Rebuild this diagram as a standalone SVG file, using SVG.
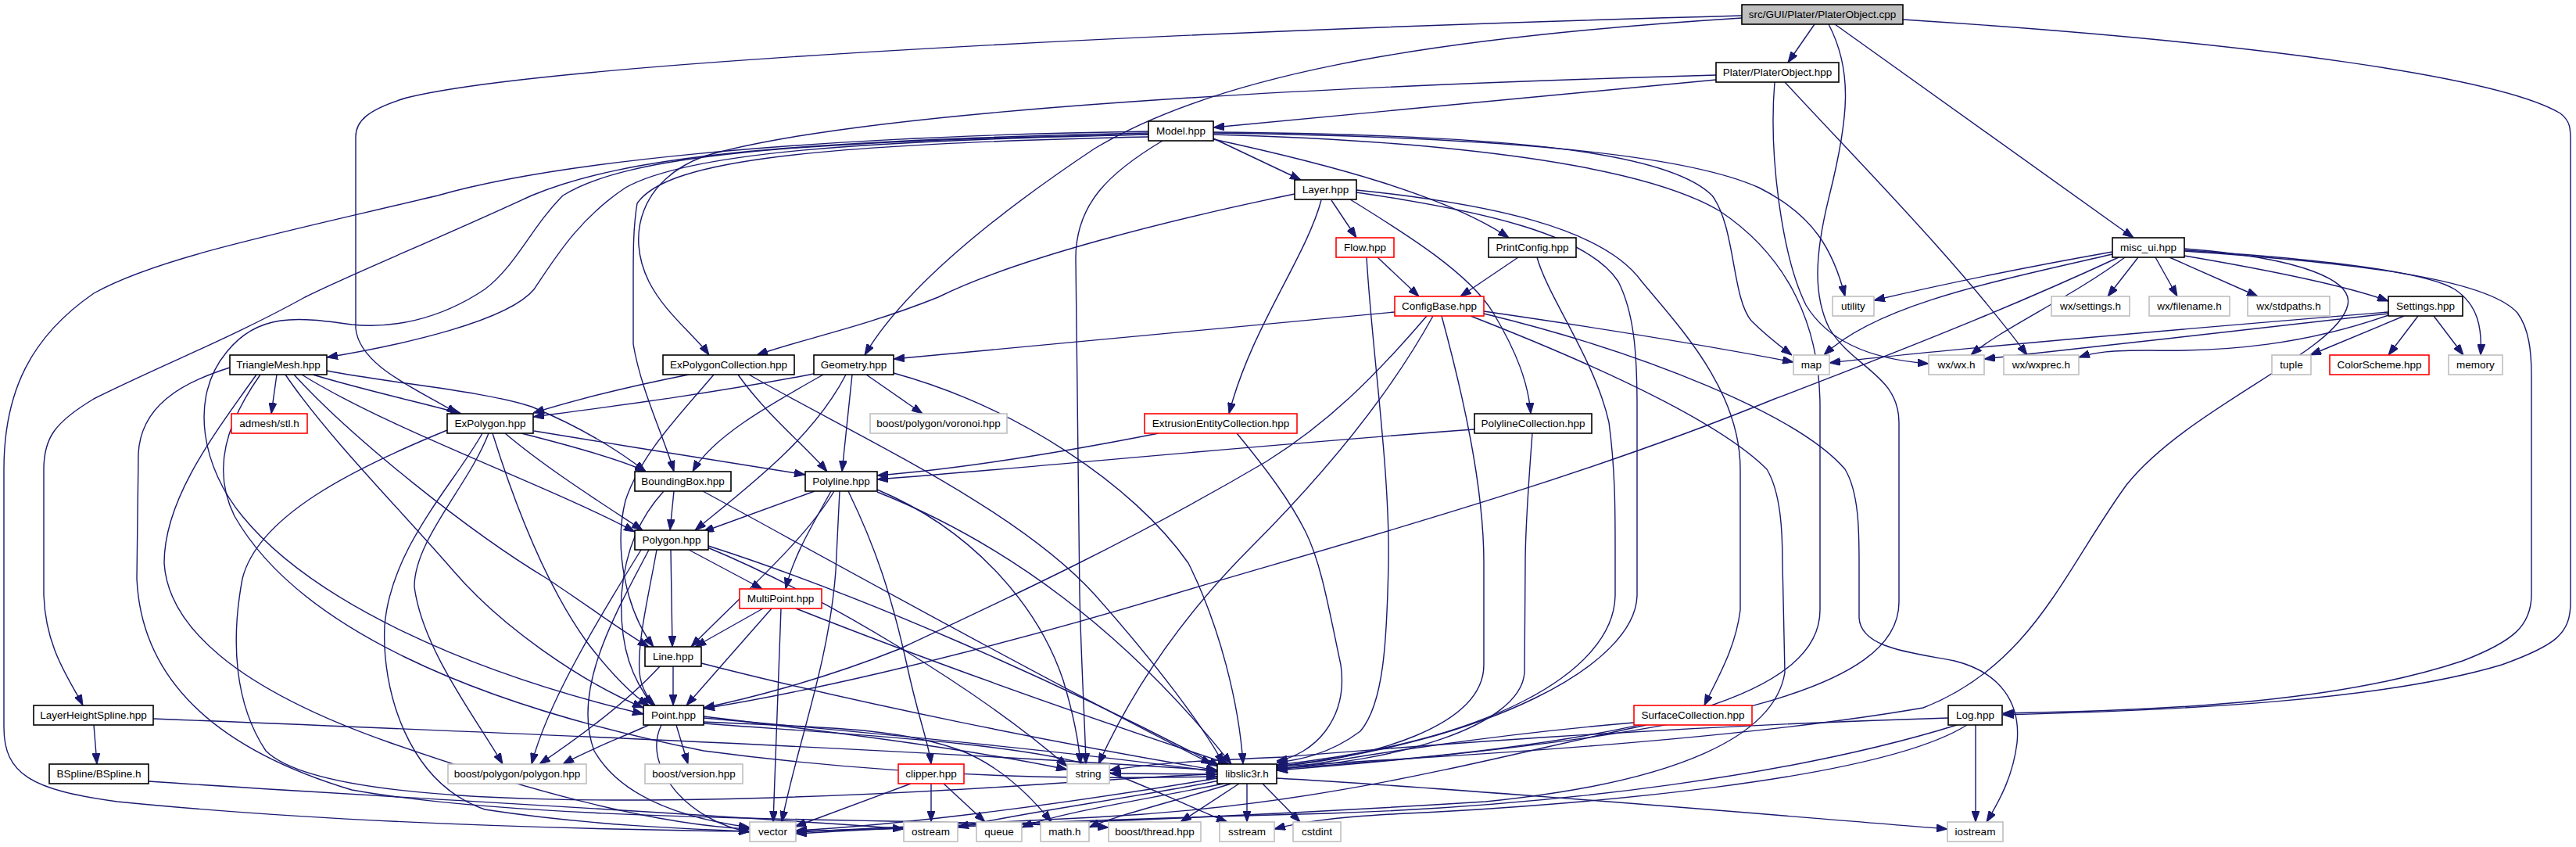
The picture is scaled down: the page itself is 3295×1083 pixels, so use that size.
<svg xmlns="http://www.w3.org/2000/svg" width="3295" height="1083" viewBox="0 0 3295 1083">
<style>
.e{fill:none;stroke:#191970;stroke-width:1.4;marker-end:url(#a)}
.n rect{fill:#fff;stroke:#000;stroke-width:1.6}
.g rect{fill:#fff;stroke:#bfbfbf;stroke-width:1.6}
.r rect{fill:#fff;stroke:#ff0000;stroke-width:1.6}
.root rect{fill:#bfbfbf;stroke:#000;stroke-width:1.6}
text{font-family:"Liberation Sans",Arial,sans-serif;font-size:13.5px;text-anchor:middle;fill:#000}
</style>
<defs>
<marker id="a" markerUnits="userSpaceOnUse" markerWidth="14" markerHeight="10" refX="14" refY="5" orient="auto"><path d="M0,0 L14,5 L0,10 z" fill="#191970" stroke="#191970"/></marker>
</defs>
<rect width="3295" height="1083" fill="#fff"/>
<g id="edges">
<path class="e" d="M2321,31 L2287,80"/>
<path class="e" d="M2228,23 C1800,50 1550,100 1400,190 C1250,290 1150,380 1106,454"/>
<path class="e" d="M2228,20 C1500,40 700,80 520,125 C470,140 455,155 455,175 L455,420 C460,470 540,500 585,529"/>
<path class="e" d="M2347,31 L2729,304"/>
<path class="e" d="M2434,25 C2900,55 3200,100 3275,145 C3288,155 3288,165 3288,180 L3288,770 C3288,810 3270,825 3200,850 C3050,895 2800,908 2562,914"/>
<path class="e" d="M2339,31 C2370,90 2365,150 2340,250 C2320,330 2320,380 2340,420 C2370,470 2429,480 2429,540 L2429,770 C2429,880 2200,940 1633,985"/>
<path class="e" d="M2195,102 C1950,125 1750,145 1552,163"/>
<path class="e" d="M2195,96 C1700,110 1100,140 900,200 C820,230 800,300 830,360 C850,400 890,430 907,454"/>
<path class="e" d="M2270,105 C2262,200 2280,330 2310,390 C2340,440 2400,460 2467,465"/>
<path class="e" d="M2283,105 C2380,210 2500,330 2593,454"/>
<path class="e" d="M1552,177 L1664,230"/>
<path class="e" d="M1552,178 C1700,210 1850,250 1930,304"/>
<path class="e" d="M1552,169 C1900,172 2130,190 2190,250 C2220,290 2215,380 2240,410 C2260,430 2280,445 2292,454"/>
<path class="e" d="M1552,170 C1900,175 2150,195 2250,240 C2320,275 2345,320 2360,379"/>
<path class="e" d="M1552,172 C1850,180 2100,210 2200,270 C2290,330 2328,420 2328,520 L2328,780 C2328,880 2150,950 1633,983"/>
<path class="e" d="M1487,180 C1420,220 1376,260 1376,330 L1381,760 C1383,850 1388,930 1389,977"/>
<path class="e" d="M1469,172 C1100,180 880,195 800,240 C740,280 710,330 683,370 C650,410 520,440 418,457"/>
<path class="e" d="M1469,170 C1000,180 800,200 680,250 C550,310 450,350 390,380 C300,430 200,470 120,510 C70,540 56,560 56,600 L56,760 C58,830 90,870 106,902"/>
<path class="e" d="M1469,168 C1000,175 700,210 560,250 C350,300 200,330 120,375 C40,430 5,500 5,600 L5,930 C5,990 40,1010 150,1025 C400,1050 700,1060 959,1063"/>
<path class="e" d="M1469,172 C1000,180 800,200 720,250 C680,290 660,340 620,370 C560,410 500,420 450,415 C380,405 330,400 290,450 C240,510 260,600 310,660 C400,770 600,860 823,913"/>
<path class="e" d="M1469,175 C1000,185 850,210 815,260 C810,290 810,320 810,360 L810,440 C820,500 850,560 862,603"/>
<path class="e" d="M1703,256 L1735,304"/>
<path class="e" d="M1690,256 C1670,330 1600,420 1572,529"/>
<path class="e" d="M1727,255 C1800,300 1880,350 1910,400 C1940,450 1955,490 1958,529"/>
<path class="e" d="M1656,248 C1500,280 1300,330 1200,380 C1100,420 1020,435 968,454"/>
<path class="e" d="M1735,243 C1900,260 2050,290 2100,360 C2150,420 2226,500 2226,600 L2226,780 C2220,830 2195,870 2180,902"/>
<path class="e" d="M1735,246 C1900,270 2030,300 2070,360 C2090,400 2094,450 2094,520 L2094,760 C2094,850 1900,950 1633,980"/>
<path class="e" d="M1942,329 L1868,379"/>
<path class="e" d="M1966,329 C1980,380 2040,460 2058,540 C2066,600 2066,650 2066,700 L2066,760 C2066,860 1900,950 1633,978"/>
<path class="e" d="M1762,329 L1815,379"/>
<path class="e" d="M1748,329 C1755,450 1778,600 1776,720 C1774,820 1770,900 1740,935 C1700,965 1660,972 1633,975"/>
<path class="e" d="M1784,399 C1500,425 1300,445 1143,459"/>
<path class="e" d="M1825,404 C1760,480 1700,540 1620,590 C1450,690 1300,760 1150,830 C1050,870 950,895 900,905"/>
<path class="e" d="M1833,404 C1780,500 1700,600 1600,700 C1500,800 1440,900 1405,977"/>
<path class="e" d="M1844,404 C1870,500 1898,620 1898,720 L1898,850 C1898,930 1750,970 1633,980"/>
<path class="e" d="M1898,398 C2050,420 2200,445 2294,463"/>
<path class="e" d="M1898,401 C2100,450 2300,530 2360,600 C2378,630 2378,680 2378,720 L2378,790 C2380,830 2450,835 2500,845 C2560,860 2585,900 2580,950 C2575,990 2560,1020 2541,1051"/>
<path class="e" d="M1881,404 C2050,470 2200,540 2260,600 C2278,630 2280,680 2280,720 L2283,860 C2270,940 2150,1000 1900,1025 C1500,1050 1200,1058 1018,1063"/>
<path class="e" d="M1886,549 C1600,570 1350,595 1122,613"/>
<path class="e" d="M1960,554 C1955,620 1951,680 1951,720 L1950,860 C1945,930 1780,975 1633,982"/>
<path class="e" d="M1482,554 C1350,580 1220,600 1122,608"/>
<path class="e" d="M1582,554 C1620,600 1650,640 1670,680 C1690,720 1700,780 1715,850 C1725,920 1680,965 1633,973"/>
<path class="e" d="M881,479 C800,495 740,510 682,528"/>
<path class="e" d="M1041,478 C900,505 780,520 682,533"/>
<path class="e" d="M944,479 C980,530 1030,570 1058,603"/>
<path class="e" d="M958,479 C1100,560 1300,650 1400,760 C1480,850 1540,930 1565,977"/>
<path class="e" d="M913,479 C870,530 820,580 800,640 C785,700 800,780 836,827"/>
<path class="e" d="M1053,479 C980,520 910,560 886,603"/>
<path class="e" d="M1082,479 C1040,560 960,620 889,678"/>
<path class="e" d="M1090,479 L1077,603"/>
<path class="e" d="M1108,479 L1180,529"/>
<path class="e" d="M1143,477 C1300,520 1450,620 1520,720 C1560,800 1585,900 1590,977"/>
<path class="e" d="M667,554 C730,570 800,590 826,603"/>
<path class="e" d="M683,551 C800,570 950,595 1030,607"/>
<path class="e" d="M646,554 C700,600 780,650 822,678"/>
<path class="e" d="M630,554 C660,650 700,750 750,820 C780,860 810,890 830,902"/>
<path class="e" d="M625,554 C600,620 530,690 530,750 C540,830 610,920 643,977"/>
<path class="e" d="M617,554 C580,620 500,700 492,800 C488,880 520,1000 620,1035 C750,1055 880,1060 959,1063"/>
<path class="e" d="M572,550 C450,600 330,660 310,740 C295,820 300,900 340,960 C420,1040 900,1030 1300,1005 C1450,995 1520,990 1557,990"/>
<path class="e" d="M354,479 L347,529"/>
<path class="e" d="M400,479 C470,500 540,515 590,529"/>
<path class="e" d="M418,474 C500,490 620,500 680,520 C740,545 790,575 826,603"/>
<path class="e" d="M386,479 C500,550 700,620 812,680"/>
<path class="e" d="M376,479 C450,560 600,680 700,740 C760,780 800,810 830,827"/>
<path class="e" d="M365,479 C420,560 520,660 580,730 C640,800 740,870 823,905"/>
<path class="e" d="M333,479 C290,540 270,600 300,660 C380,800 600,900 900,960 C1200,1000 1450,995 1557,993"/>
<path class="e" d="M328,479 C270,560 210,640 210,720 C215,800 300,880 500,950 C700,1020 850,1055 959,1060"/>
<path class="e" d="M294,470 C230,490 180,520 177,580 L175,740 C180,850 250,950 450,1010 C700,1055 1200,1045 1418,1058"/>
<path class="e" d="M120,927 L124,977"/>
<path class="e" d="M196,919 C600,935 1100,955 1557,985"/>
<path class="e" d="M190,999 C500,1020 900,1040 1156,1060"/>
<path class="e" d="M862,628 L857,678"/>
<path class="e" d="M849,628 C820,660 800,700 795,760 C792,830 810,870 835,902"/>
<path class="e" d="M899,628 C1050,710 1300,850 1550,977"/>
<path class="e" d="M881,703 L975,753"/>
<path class="e" d="M858,703 L860,827"/>
<path class="e" d="M840,703 C830,760 815,820 818,860 C820,880 830,895 838,902"/>
<path class="e" d="M820,703 C760,800 700,900 680,977"/>
<path class="e" d="M830,703 C790,780 730,880 760,960 C800,1030 900,1050 959,1058"/>
<path class="e" d="M905,700 C1050,760 1250,880 1365,980"/>
<path class="e" d="M906,698 C1100,760 1350,870 1560,980"/>
<path class="e" d="M1042,628 L899,680"/>
<path class="e" d="M1063,628 C1040,670 1015,710 1005,753"/>
<path class="e" d="M1067,628 C1030,690 950,760 884,827"/>
<path class="e" d="M1074,628 L1069,730 C1060,850 1020,950 1000,1051"/>
<path class="e" d="M1085,628 C1120,700 1140,760 1160,850 C1175,920 1188,950 1191,977"/>
<path class="e" d="M1122,626 C1250,680 1330,780 1360,870 C1375,920 1380,950 1382,977"/>
<path class="e" d="M1122,629 C1300,700 1450,820 1575,977"/>
<path class="e" d="M976,778 L889,827"/>
<path class="e" d="M987,778 L878,902"/>
<path class="e" d="M999,778 L989,1051"/>
<path class="e" d="M1018,778 C1200,850 1400,920 1572,977"/>
<path class="e" d="M861,852 L861,902"/>
<path class="e" d="M897,848 C1100,900 1350,950 1557,985"/>
<path class="e" d="M844,852 C800,900 730,950 690,977"/>
<path class="e" d="M900,918 C1150,940 1400,965 1557,987"/>
<path class="e" d="M900,916 C1100,940 1250,960 1365,984"/>
<path class="e" d="M865,927 L880,977"/>
<path class="e" d="M830,927 C790,945 750,960 720,977"/>
<path class="e" d="M846,927 C820,980 880,1050 959,1064"/>
<path class="e" d="M899,923 C1050,930 1150,930 1230,960 C1280,980 1320,1020 1345,1051"/>
<path class="e" d="M899,925 C1100,940 1300,950 1400,980 C1480,1010 1540,1040 1570,1051"/>
<path class="e" d="M1165,1002 L1017,1057"/>
<path class="e" d="M1191,1002 L1191,1051"/>
<path class="e" d="M1207,1002 L1260,1051"/>
<path class="e" d="M1557,990 L1420,989"/>
<path class="e" d="M1557,995 C1350,1030 1150,1055 1018,1062"/>
<path class="e" d="M1560,998 C1450,1020 1300,1040 1225,1058"/>
<path class="e" d="M1565,1002 C1450,1025 1350,1040 1307,1058"/>
<path class="e" d="M1575,1002 C1500,1025 1420,1045 1393,1058"/>
<path class="e" d="M1585,1002 L1510,1051"/>
<path class="e" d="M1595,1002 L1595,1051"/>
<path class="e" d="M1615,1002 L1663,1051"/>
<path class="e" d="M1633,995 C1900,1010 2300,1045 2491,1060"/>
<path class="e" d="M2090,924 C1900,940 1750,965 1633,985"/>
<path class="e" d="M2106,927 C1900,970 1700,1030 1400,1045 C1200,1055 1100,1060 1018,1064"/>
<path class="e" d="M2492,918 C2100,930 1800,955 1640,968 C1550,972 1480,975 1419,985"/>
<path class="e" d="M2503,927 C2300,990 2000,1030 1700,1040 C1400,1048 1150,1058 1018,1066"/>
<path class="e" d="M2516,927 C2400,1000 2000,1030 1800,1040 C1700,1045 1660,1052 1630,1060"/>
<path class="e" d="M2527,927 L2527,1051"/>
<path class="e" d="M2702,322 C2600,340 2500,360 2397,384"/>
<path class="e" d="M2702,325 C2550,360 2400,390 2333,454"/>
<path class="e" d="M2710,329 C2600,380 2480,430 2270,510 C2000,620 1700,700 1500,760 C1200,850 1000,890 900,906"/>
<path class="e" d="M2718,329 C2650,380 2560,420 2521,454"/>
<path class="e" d="M2735,329 L2696,379"/>
<path class="e" d="M2757,329 L2785,379"/>
<path class="e" d="M2775,329 L2888,379"/>
<path class="e" d="M2794,327 C2900,345 3000,365 3055,385"/>
<path class="e" d="M2794,318 C2950,330 3010,360 3003,390 C2990,450 2800,520 2720,620 C2640,730 2600,850 2460,905 C2200,950 1800,970 1633,980"/>
<path class="e" d="M2794,320 C2950,330 3100,345 3140,370 C3170,390 3175,420 3173,454"/>
<path class="e" d="M2794,321 C3000,335 3180,355 3220,400 C3235,420 3238,450 3238,480 L3238,760 C3238,800 3215,820 3150,845 C3000,895 2800,908 2562,912"/>
<path class="e" d="M3055,399 C2800,420 2500,445 2340,464"/>
<path class="e" d="M3055,401 C2900,420 2700,440 2538,459"/>
<path class="e" d="M3055,403 C2950,440 2850,450 2750,448 C2700,448 2680,450 2659,457"/>
<path class="e" d="M3075,404 L2955,454"/>
<path class="e" d="M3093,404 L3055,454"/>
<path class="e" d="M3113,404 L3151,454"/>
</g>
<g id="node-root" class="root"><rect x="2228" y="6" width="206" height="25"/><text x="2331" y="23">src/GUI/Plater/PlaterObject.cpp</text></g>
<g id="node-platerobject-hpp" class="n"><rect x="2195" y="80" width="157" height="25"/><text x="2273.5" y="97">Plater/PlaterObject.hpp</text></g>
<g id="node-model" class="n"><rect x="1469" y="155" width="83" height="25"/><text x="1510.5" y="172">Model.hpp</text></g>
<g id="node-layer" class="n"><rect x="1656" y="230" width="79" height="25"/><text x="1695.5" y="247">Layer.hpp</text></g>
<g id="node-flow" class="r"><rect x="1709" y="304" width="74" height="25"/><text x="1746" y="321">Flow.hpp</text></g>
<g id="node-printconfig" class="n"><rect x="1904" y="304" width="112" height="25"/><text x="1960" y="321">PrintConfig.hpp</text></g>
<g id="node-misc-ui" class="n"><rect x="2702" y="304" width="92" height="25"/><text x="2748" y="321">misc_ui.hpp</text></g>
<g id="node-configbase" class="r"><rect x="1784" y="379" width="114" height="25"/><text x="1841" y="396">ConfigBase.hpp</text></g>
<g id="node-utility" class="g"><rect x="2344" y="379" width="53" height="25"/><text x="2370.5" y="396">utility</text></g>
<g id="node-wx-settings" class="g"><rect x="2624" y="379" width="100" height="25"/><text x="2674" y="396">wx/settings.h</text></g>
<g id="node-wx-filename" class="g"><rect x="2749" y="379" width="103" height="25"/><text x="2800.5" y="396">wx/filename.h</text></g>
<g id="node-wx-stdpaths" class="g"><rect x="2875" y="379" width="105" height="25"/><text x="2927.5" y="396">wx/stdpaths.h</text></g>
<g id="node-settings" class="n"><rect x="3055" y="379" width="95" height="25"/><text x="3102.5" y="396">Settings.hpp</text></g>
<g id="node-trianglemesh" class="n"><rect x="294" y="454" width="124" height="25"/><text x="356" y="471">TriangleMesh.hpp</text></g>
<g id="node-expolygoncollection" class="n"><rect x="848" y="454" width="168" height="25"/><text x="932" y="471">ExPolygonCollection.hpp</text></g>
<g id="node-geometry" class="n"><rect x="1041" y="454" width="102" height="25"/><text x="1092" y="471">Geometry.hpp</text></g>
<g id="node-map" class="g"><rect x="2294" y="454" width="46" height="25"/><text x="2317" y="471">map</text></g>
<g id="node-wx-wx" class="g"><rect x="2467" y="454" width="71" height="25"/><text x="2502.5" y="471">wx/wx.h</text></g>
<g id="node-wx-wxprec" class="g"><rect x="2563" y="454" width="96" height="25"/><text x="2611" y="471">wx/wxprec.h</text></g>
<g id="node-tuple" class="g"><rect x="2906" y="454" width="50" height="25"/><text x="2931" y="471">tuple</text></g>
<g id="node-colorscheme" class="r"><rect x="2980" y="454" width="127" height="25"/><text x="3043.5" y="471">ColorScheme.hpp</text></g>
<g id="node-memory" class="g"><rect x="3132" y="454" width="69" height="25"/><text x="3166.5" y="471">memory</text></g>
<g id="node-admesh" class="r"><rect x="296" y="529" width="97" height="25"/><text x="344.5" y="546">admesh/stl.h</text></g>
<g id="node-expolygon" class="n"><rect x="572" y="529" width="110" height="25"/><text x="627" y="546">ExPolygon.hpp</text></g>
<g id="node-voronoi" class="g"><rect x="1113" y="529" width="175" height="25"/><text x="1200.5" y="546">boost/polygon/voronoi.hpp</text></g>
<g id="node-eec" class="r"><rect x="1464" y="529" width="195" height="25"/><text x="1561.5" y="546">ExtrusionEntityCollection.hpp</text></g>
<g id="node-polylinecollection" class="n"><rect x="1886" y="529" width="150" height="25"/><text x="1961" y="546">PolylineCollection.hpp</text></g>
<g id="node-boundingbox" class="n"><rect x="812" y="603" width="123" height="25"/><text x="873.5" y="620">BoundingBox.hpp</text></g>
<g id="node-polyline" class="n"><rect x="1030" y="603" width="92" height="25"/><text x="1076" y="620">Polyline.hpp</text></g>
<g id="node-polygon" class="n"><rect x="812" y="678" width="94" height="25"/><text x="859" y="695">Polygon.hpp</text></g>
<g id="node-multipoint" class="r"><rect x="946" y="753" width="105" height="25"/><text x="998.5" y="770">MultiPoint.hpp</text></g>
<g id="node-line" class="n"><rect x="825" y="827" width="72" height="25"/><text x="861" y="844">Line.hpp</text></g>
<g id="node-layerheightspline" class="n"><rect x="43" y="902" width="153" height="25"/><text x="119.5" y="919">LayerHeightSpline.hpp</text></g>
<g id="node-point" class="n"><rect x="823" y="902" width="77" height="25"/><text x="861.5" y="919">Point.hpp</text></g>
<g id="node-surfacecollection" class="r"><rect x="2090" y="902" width="151" height="25"/><text x="2165.5" y="919">SurfaceCollection.hpp</text></g>
<g id="node-log" class="n"><rect x="2492" y="902" width="69" height="25"/><text x="2526.5" y="919">Log.hpp</text></g>
<g id="node-bspline" class="n"><rect x="63" y="977" width="127" height="25"/><text x="126.5" y="994">BSpline/BSpline.h</text></g>
<g id="node-boost-polygon" class="g"><rect x="573" y="977" width="177" height="25"/><text x="661.5" y="994">boost/polygon/polygon.hpp</text></g>
<g id="node-boost-version" class="g"><rect x="825" y="977" width="125" height="25"/><text x="887.5" y="994">boost/version.hpp</text></g>
<g id="node-clipper" class="r"><rect x="1149" y="977" width="84" height="25"/><text x="1191" y="994">clipper.hpp</text></g>
<g id="node-string" class="g"><rect x="1365" y="977" width="54" height="25"/><text x="1392" y="994">string</text></g>
<g id="node-libslic3r" class="n"><rect x="1557" y="977" width="76" height="25"/><text x="1595" y="994">libslic3r.h</text></g>
<g id="node-vector" class="g"><rect x="959" y="1051" width="59" height="25"/><text x="988.5" y="1068">vector</text></g>
<g id="node-ostream" class="g"><rect x="1156" y="1051" width="69" height="25"/><text x="1190.5" y="1068">ostream</text></g>
<g id="node-queue" class="g"><rect x="1249" y="1051" width="58" height="25"/><text x="1278" y="1068">queue</text></g>
<g id="node-math" class="g"><rect x="1331" y="1051" width="62" height="25"/><text x="1362" y="1068">math.h</text></g>
<g id="node-boost-thread" class="g"><rect x="1418" y="1051" width="118" height="25"/><text x="1477" y="1068">boost/thread.hpp</text></g>
<g id="node-sstream" class="g"><rect x="1560" y="1051" width="70" height="25"/><text x="1595" y="1068">sstream</text></g>
<g id="node-cstdint" class="g"><rect x="1654" y="1051" width="61" height="25"/><text x="1684.5" y="1068">cstdint</text></g>
<g id="node-iostream" class="g"><rect x="2491" y="1051" width="71" height="25"/><text x="2526.5" y="1068">iostream</text></g>
</svg>
